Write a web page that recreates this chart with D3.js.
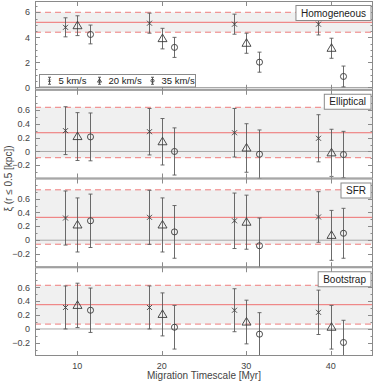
<!DOCTYPE html>
<html><head><meta charset="utf-8">
<script src="https://cdn.jsdelivr.net/npm/d3@7"></script>
<style>body{margin:0;background:#fff}svg{display:block;font-family:"Liberation Sans",Arial,sans-serif}</style>
</head><body><svg id="c" width="374" height="383"></svg>
<script>
const timescales = [10, 20, 30, 40];
const speeds = ["5 km/s", "20 km/s", "35 km/s"];
const speedOffsets = [-1.5, 0, 1.5];
const panelNames = ["Homogeneous", "Elliptical", "SFR", "Bootstrap"];

const homV5 = [4.8, 5.13, 5.05, 5.05], homE5 = [0.76, 0.8, 0.8, 0.86];
const homV20 = [4.93, 3.9, 3.53, 3.13], homE20 = [0.79, 0.82, 0.8, 0.8];
const homV35 = [4.23, 3.2, 2.02, 0.88], homE35 = [0.75, 0.8, 0.8, 0.83];
const homRef = [5.2, 4.41, 6.0];

const ellV5 = [0.3, 0.285, 0.27, 0.19], ellE5 = [0.345, 0.335, 0.35, 0.34];
const ellV20 = [0.215, 0.14, 0.05, -0.02], ellE20 = [0.345, 0.335, 0.35, 0.34];
const ellV35 = [0.21, 0.0, -0.04, -0.045], ellE35 = [0.345, 0.34, 0.35, 0.335];
const ellRef = [0.27, -0.09, 0.637];

const sfrV5 = [0.32, 0.33, 0.28, 0.335], sfrE5 = [0.39, 0.39, 0.4, 0.365];
const sfrV20 = [0.22, 0.22, 0.26, 0.07], sfrE20 = [0.39, 0.39, 0.39, 0.36];
const sfrV35 = [0.28, 0.12, -0.08, 0.1], sfrE35 = [0.385, 0.38, 0.4, 0.36];
const sfrRef = [0.33, -0.058, 0.727];

const bootV5 = [0.31, 0.31, 0.27, 0.24], bootE5 = [0.31, 0.31, 0.31, 0.32];
const bootV20 = [0.34, 0.21, 0.1, 0.025], bootE20 = [0.32, 0.31, 0.315, 0.315];
const bootV35 = [0.27, 0.025, -0.075, -0.195], bootE35 = [0.32, 0.315, 0.31, 0.32];
const bootRef = [0.35, 0.07, 0.63];

const homTicks = [0, 2, 4, 6];
const smallTicks = [-0.2, 0, 0.2, 0.4, 0.6];
const xTicks = [10, 20, 30, 40];

const panels = [
  {name: panelNames[0], vals: [homV5, homV20, homV35], errs: [homE5, homE20, homE35], ref: homRef, dom: [-0.18, 6.9], ticks: homTicks, minor: 0.5, fmt: d3.format("d")},
  {name: panelNames[1], vals: [ellV5, ellV20, ellV35], errs: [ellE5, ellE20, ellE35], ref: ellRef, dom: [-0.39, 0.89], ticks: smallTicks, minor: 0.1, fmt: d => d === 0 ? "0" : d3.format(".1f")(d)},
  {name: panelNames[2], vals: [sfrV5, sfrV20, sfrV35], errs: [sfrE5, sfrE20, sfrE35], ref: sfrRef, dom: [-0.39, 0.89], ticks: smallTicks, minor: 0.1, fmt: d => d === 0 ? "0" : d3.format(".1f")(d)},
  {name: panelNames[3], vals: [bootV5, bootV20, bootV35], errs: [bootE5, bootE20, bootE35], ref: bootRef, dom: [-0.39, 0.89], ticks: smallTicks, minor: 0.1, fmt: d => d === 0 ? "0" : d3.format(".1f")(d)}
];

const svg = d3.select("#c");
const L = 35, R = 373, T = 1, B = 356;
const ph = (B - T) / panels.length;
const x = d3.scaleLinear().domain([5, 45]).range([L, R]);
const frameCol = "#8a8a8a", textCol = "#444", red = "#ef7070", barCol = "#5a5a5a", mkCol = "#3a3a3a";

function marker(g, k, cx, cy, s) {
  if (k === 0) {
    g.append("path").attr("d", `M${cx-s},${cy-s}L${cx+s},${cy+s}M${cx-s},${cy+s}L${cx+s},${cy-s}`)
      .attr("stroke", mkCol).attr("stroke-width", 0.9).attr("fill", "none");
  } else if (k === 1) {
    const h = s * 2.1, w = s * 1.25;
    g.append("path").attr("d", `M${cx},${cy-h*0.6}L${cx+w*1.0},${cy+h*0.4}L${cx-w*1.0},${cy+h*0.4}Z`)
      .attr("stroke", mkCol).attr("stroke-width", 0.9).attr("fill", "none");
  } else {
    g.append("circle").attr("cx", cx).attr("cy", cy).attr("r", s * 1.05)
      .attr("stroke", mkCol).attr("stroke-width", 0.9).attr("fill", "none");
  }
}

panels.forEach((p, i) => {
  const top = T + i * ph, bot = top + ph;
  const y = d3.scaleLinear().domain(p.dom).range([bot, top]);
  const g = svg.append("g");
  const clipId = "clip" + i;
  svg.append("clipPath").attr("id", clipId).append("rect").attr("x", L).attr("y", top).attr("width", R - L).attr("height", ph);
  const inner = g.append("g").attr("clip-path", `url(#${clipId})`);
  inner.append("rect").attr("x", L).attr("width", R - L)
    .attr("y", y(p.ref[2])).attr("height", y(p.ref[1]) - y(p.ref[2])).attr("fill", "#f0f0f0");
  inner.append("line").attr("x1", L).attr("x2", R).attr("y1", y(0)).attr("y2", y(0)).attr("stroke", "#a8a8a8").attr("stroke-width", 1);
  inner.append("line").attr("x1", L).attr("x2", R).attr("y1", y(p.ref[0])).attr("y2", y(p.ref[0])).attr("stroke", red).attr("stroke-width", 1);
  [p.ref[1], p.ref[2]].forEach(v => inner.append("line").attr("x1", L).attr("x2", R).attr("y1", y(v)).attr("y2", y(v))
    .attr("stroke", red).attr("stroke-width", 1).attr("stroke-dasharray", "6,4").attr("opacity", 0.9));
  p.vals.forEach((vals, k) => {
    vals.forEach((v, j) => {
      const cx = Math.round(x(timescales[j] + speedOffsets[k])) + 0.5;
      const e = p.errs[k][j];
      const y1 = y(v + e), y2 = y(v - e);
      inner.append("line").attr("x1", cx).attr("x2", cx).attr("y1", y1).attr("y2", y2).attr("stroke", barCol).attr("stroke-width", 0.9);
      [y1, y2].forEach(yy => inner.append("line").attr("x1", cx - 2).attr("x2", cx + 2).attr("y1", yy).attr("y2", yy).attr("stroke", barCol).attr("stroke-width", 0.9));
      marker(inner, k, cx, y(v), k === 0 ? 2.5 : (k === 1 ? 3.6 : 2.9));
    });
  });
  g.append("rect").attr("x", L + 0.5).attr("y", top + 0.5).attr("width", R - L - 1).attr("height", ph - 1)
    .attr("fill", "none").attr("stroke", frameCol).attr("stroke-width", 1);
  const minorTicks = d3.range(Math.ceil(p.dom[0] / p.minor) * p.minor, p.dom[1], p.minor).map(v => +v.toFixed(3));
  minorTicks.forEach(v => {
    const yy = Math.round(y(v)) + 0.5;
    const major = p.ticks.some(t => Math.abs(t - v) < 1e-6);
    const len = major ? 5 : 2.5;
    g.append("line").attr("x1", L).attr("x2", L + len).attr("y1", yy).attr("y2", yy).attr("stroke", frameCol);
    g.append("line").attr("x1", R).attr("x2", R - len).attr("y1", yy).attr("y2", yy).attr("stroke", frameCol);
  });
  p.ticks.forEach(v => {
    g.append("text").attr("x", L - 5).attr("y", y(v)).attr("dy", "0.35em").attr("text-anchor", "end")
      .attr("font-size", 9).attr("fill", textCol).text(p.fmt(v));
  });
  xTicks.forEach(t => {
    const xx = Math.round(x(t)) + 0.5;
    g.append("line").attr("x1", xx).attr("x2", xx).attr("y1", bot).attr("y2", bot - 5).attr("stroke", frameCol);
    g.append("line").attr("x1", xx).attr("x2", xx).attr("y1", top).attr("y2", top + 5).attr("stroke", frameCol);
  });
  const lab = g.append("g");
  const txt = lab.append("text").attr("font-size", 10).attr("fill", "#222").text(p.name);
  const w = txt.node().getComputedTextLength() + 10;
  const bx = R - 2 - w, by = top + 4.5;
  lab.insert("rect", "text").attr("x", bx).attr("y", by).attr("width", w).attr("height", 15)
    .attr("fill", "#fff").attr("stroke", frameCol).attr("stroke-width", 1);
  txt.attr("x", bx + w / 2).attr("y", by + 11).attr("text-anchor", "middle");

  if (i === 0) {
    const lg = g.append("g");
    lg.append("rect").attr("x", 39.5).attr("y", 74.5).attr("width", 156).attr("height", 12.5)
      .attr("fill", "#fff").attr("stroke", frameCol);
    const lx = [49.5, 99.5, 152.5];
    speeds.forEach((s, k) => {
      const cy = 80.75;
      lg.append("line").attr("x1", lx[k]).attr("x2", lx[k]).attr("y1", cy - 3.5).attr("y2", cy + 3.5).attr("stroke", barCol);
      [cy - 3.5, cy + 3.5].forEach(yy => lg.append("line").attr("x1", lx[k] - 1.5).attr("x2", lx[k] + 1.5).attr("y1", yy).attr("y2", yy).attr("stroke", barCol));
      marker(lg, k, lx[k], cy, k === 0 ? 1.2 : (k === 1 ? 1.6 : 1.5));
      lg.append("text").attr("x", lx[k] + 9).attr("y", cy).attr("dy", "0.35em").attr("font-size", 9.5).attr("fill", "#222").text(s);
    });
  }
});

xTicks.forEach(t => {
  svg.append("text").attr("x", x(t)).attr("y", 366).attr("dy", "0.35em").attr("text-anchor", "middle")
    .attr("font-size", 9).attr("fill", textCol).text(t);
});
svg.append("text").attr("x", (L + R) / 2).attr("y", 379).attr("text-anchor", "middle")
  .attr("font-size", 10).attr("fill", textCol).text("Migration Timescale [Myr]");
svg.append("text").attr("transform", `translate(12,${(T + B) / 2}) rotate(-90)`).attr("text-anchor", "middle")
  .attr("font-size", 10).attr("fill", textCol).text("ξ (r ≤ 0.5 [kpc])");
</script></body></html>
